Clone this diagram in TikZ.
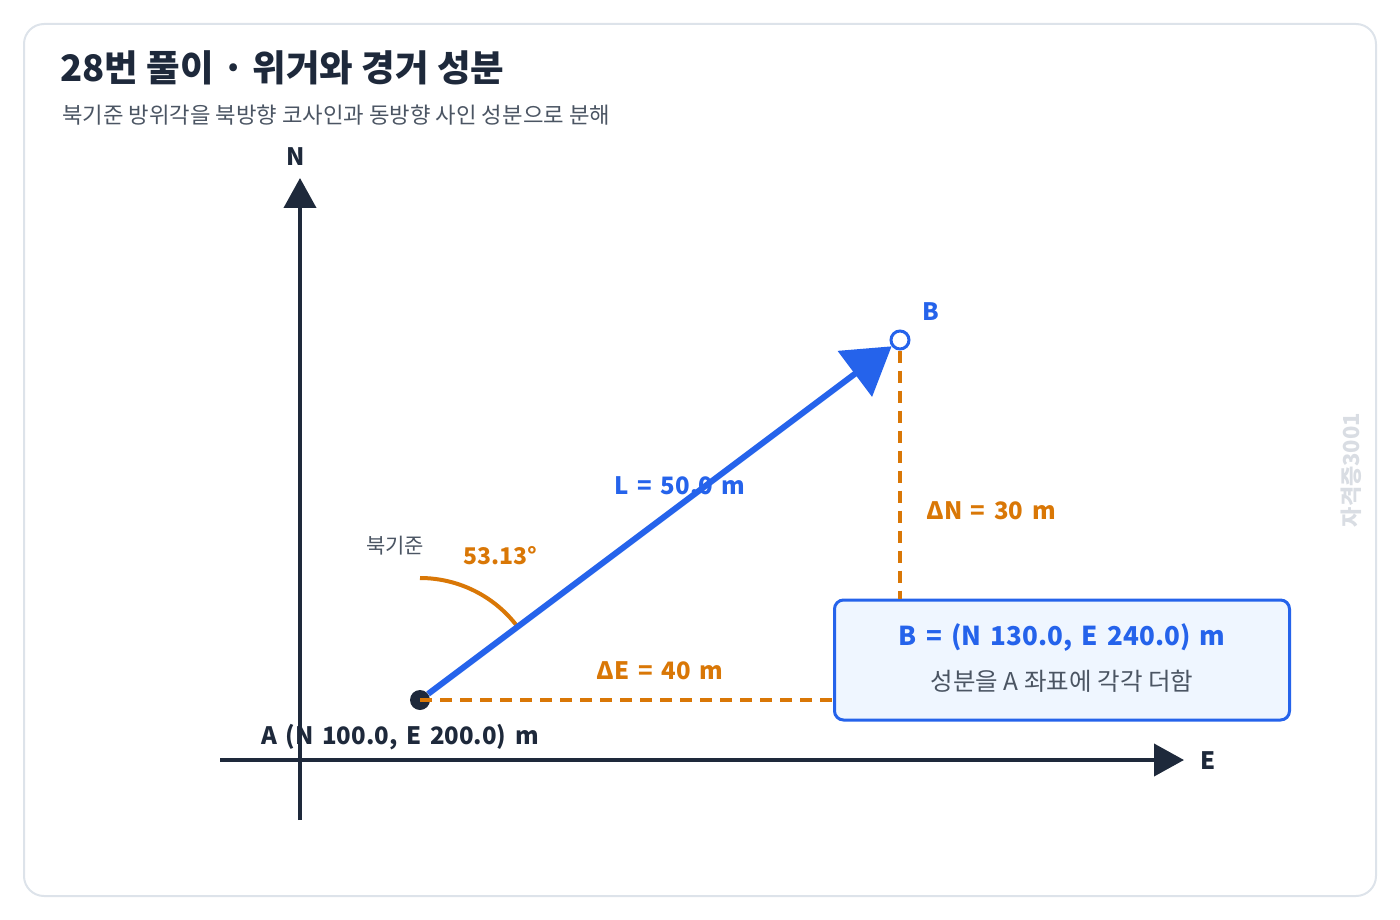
\documentclass[tikz,border=0pt]{standalone}
\usepackage{fontspec}
\setmainfont{Noto Sans CJK KR}
\usetikzlibrary{arrows.meta,calc}
\definecolor{ink}{HTML}{1E293B}
\definecolor{vblue}{HTML}{2563EB}
\definecolor{orng}{HTML}{D97706}
\definecolor{subgray}{HTML}{4B5563}
\definecolor{framegray}{HTML}{DDE3EA}
\definecolor{boxfill}{HTML}{EFF6FF}
\definecolor{wmark}{HTML}{D9DDE3}
\newcommand\widesp{\spaceskip 0.36em plus 0.1em\relax}

\begin{document}
\begin{tikzpicture}[x=1pt, y=-1pt,
  axis/.style={ink, line width=4pt, -{Triangle[length=30pt,width=32pt]}},
  vec/.style={vblue, line width=6pt, -{Triangle[length=46pt,width=56pt]}},
  comp/.style={orng, line width=4pt, dash pattern=on 12pt off 8pt},
  ang/.style={orng, line width=4pt},
  lbl/.style={font={\bfseries\fontsize{24}{28}\selectfont\widesp}, inner sep=0pt},
  resbox/.style={draw=vblue, fill=boxfill, line width=3pt, rounded corners=9pt,
    minimum width=455pt, minimum height=120pt}]
\useasboundingbox (0,0) rectangle (1400,920);
% frame
\draw[framegray, line width=2pt, rounded corners=20pt] (24,24) rectangle (1376,896);

% title
\node[anchor=base west, inner sep=0pt, text=ink,
  font=\bfseries\fontsize{36.5}{42}\selectfont] (title) at (60,82)
  {28번 풀이 · 위거와 경거 성분};
\node[anchor=west, inner sep=0pt, text=subgray,
  font=\fontsize{22.3}{26}\selectfont] (sub) at (62,115)
  {북기준 방위각을 북방향 코사인과 동방향 사인 성분으로 분해};

% axes
\coordinate (Nbeg) at (300,820);
\coordinate (Nend) at (300,178);
\coordinate (Ebeg) at (220,760);
\coordinate (Eend) at (1184,760);
\draw[axis] (Nbeg) -- (Nend);
\draw[axis] (Ebeg) -- (Eend);
\node[lbl, text=ink] (Nlab) at (296,157) {N};
\node[lbl, text=ink] (Elab) at (1208,761) {E};

% points
\node[circle, fill=ink, inner sep=0pt, minimum size=20pt] (A) at (420,700) {};
\node[circle, draw=vblue, fill=white, line width=3pt, inner sep=0pt,
  minimum size=18pt] (B) at (900,340) {};
\node[lbl, text=vblue] (Blab) at (931,312) {B};
\node[lbl, text=ink] (Alab) at (400,737) {A (N 100.0, E 200.0) m};

% result box
\node[resbox] (res) at (1062,660) {};
\node[lbl, text=vblue, font={\bfseries\fontsize{26}{30}\selectfont\widesp}]
  (resT) at (1062,638) {B = (N 130.0, E 240.0) m};
\node[inner sep=0pt, text=subgray, font=\fontsize{24.5}{28}\selectfont] (resS)
  at (1062,681) {성분을 A 좌표에 각각 더함};

% components
\draw[comp] (A.center) -- (A.center -| res.west);
\draw[comp] (B.south) -- (B.south |- res.north);
\node[lbl, text=orng] (dE) at (660,671) {ΔE = 40 m};
\node[lbl, text=orng] (dN) at (991,511) {ΔN = 30 m};

% bearing
\coordinate (arcS) at ($(A.center)+(0,-122)$);
\draw[ang] (arcS) arc[start angle=90, end angle=36.87, radius=122pt];
\node[inner sep=0pt, text=subgray, font=\fontsize{21}{25}\selectfont] (ref)
  at (395,546) {북기준};
\node[lbl, text=orng, font=\bfseries\fontsize{23}{27}\selectfont] (bear)
  at (500,556) {53.13°};

% distance
\node[lbl, text=vblue] (Llab) at (680,486) {L = 50.0 m};
\draw[vec] (A) -- (B);

% watermark
\node[rotate=90, text=wmark, inner sep=0pt,
  font=\bfseries\fontsize{22}{26}\selectfont] (wm) at (1351,470) {자격증3001};
\end{tikzpicture}
\end{document}
